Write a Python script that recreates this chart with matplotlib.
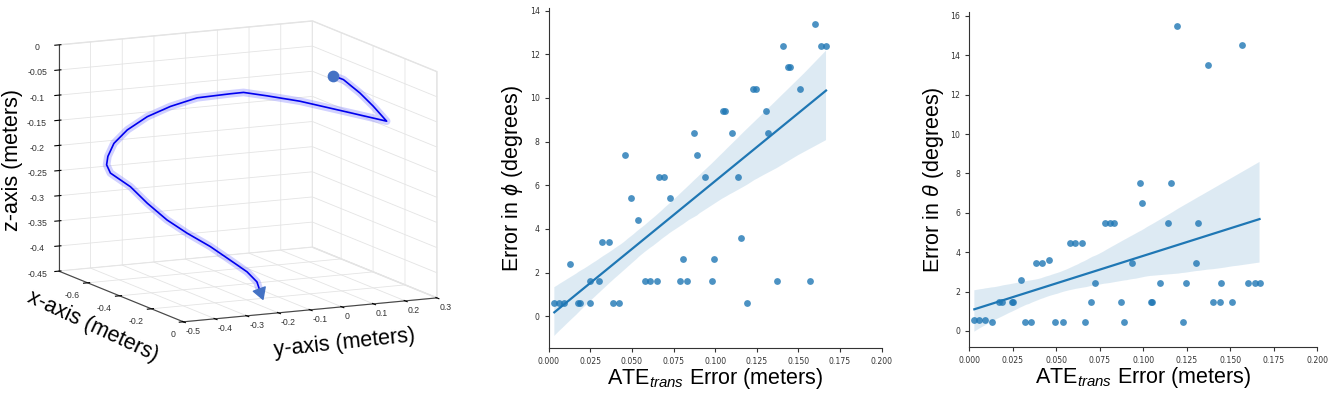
import matplotlib
matplotlib.use("Agg")
import matplotlib.pyplot as plt
import seaborn as sns
from matplotlib.ticker import FormatStrFormatter

# camera trajectory (meters)
traj_x = [-0.25, -0.23, -0.20, -0.17, -0.15, -0.20, -0.25, -0.30, -0.32, -0.35, -0.42,
          -0.47, -0.52, -0.56, -0.59, -0.61, -0.62, -0.60, -0.55, -0.50, -0.45, -0.40,
          -0.35, -0.30, -0.26, -0.23, -0.20]
traj_y = [0.098, 0.121, 0.158, 0.185, 0.217, 0.106, -0.006, -0.085, -0.149, -0.176, -0.245,
          -0.304, -0.352, -0.395, -0.422, -0.431, -0.430, -0.428, -0.390, -0.362, -0.325,
          -0.287, -0.239, -0.201, -0.168, -0.152, -0.157]
traj_z = [-0.028, -0.035, -0.060, -0.084, -0.113, -0.093, -0.073, -0.064, -0.056, -0.061,
          -0.074, -0.094, -0.118, -0.147, -0.176, -0.204, -0.222, -0.236, -0.259, -0.287,
          -0.316, -0.338, -0.361, -0.384, -0.404, -0.421, -0.436]

x_ticks = [-0.6, -0.4, -0.2, 0]
x_labels = ["-0.6", "-0.4", "-0.2", "0"]
y_ticks = [-0.5, -0.4, -0.3, -0.2, -0.1, 0, 0.1, 0.2, 0.3]
y_labels = ["-0.5", "-0.4", "-0.3", "-0.2", "-0.1", "0", "0.1", "0.2", "0.3"]
z_ticks = [-0.45, -0.4, -0.35, -0.3, -0.25, -0.2, -0.15, -0.1, -0.05, 0]
z_labels = ["-0.45", "-0.4", "-0.35", "-0.3", "-0.25", "-0.2", "-0.15", "-0.1", "-0.05", "0"]

# ATE_trans error vs rotation error
ate_phi = [0.160, 0.1636, 0.1666, 0.1406, 0.144, 0.1452, 0.123, 0.1246, 0.1508, 0.1046,
           0.1058, 0.1304, 0.087, 0.110, 0.1316, 0.046, 0.0888, 0.0662, 0.0694, 0.0936,
           0.114, 0.0494, 0.0728, 0.0536, 0.1156, 0.032, 0.036, 0.013, 0.0808, 0.0996,
           0.0246, 0.030, 0.0576, 0.0608, 0.065, 0.0786, 0.0828, 0.0982, 0.1374, 0.1568,
           0.0034, 0.006, 0.0094, 0.0176, 0.019, 0.025, 0.0386, 0.0424, 0.1192]
err_phi = [13.4, 12.4, 12.4, 12.4, 11.4, 11.4, 10.4, 10.4, 10.4, 9.4,
           9.4, 9.4, 8.4, 8.4, 8.4, 7.4, 7.4, 6.4, 6.4, 6.4,
           6.4, 5.4, 5.4, 4.4, 3.6, 3.4, 3.4, 2.4, 2.6, 2.6,
           1.6, 1.6, 1.6, 1.6, 1.6, 1.6, 1.6, 1.6, 1.6, 1.6,
           0.6, 0.6, 0.6, 0.6, 0.6, 0.6, 0.6, 0.6, 0.6]

ate_theta = [0.1194, 0.1568, 0.1374, 0.0979, 0.1157, 0.0994, 0.0781, 0.0810, 0.0829, 0.1140,
             0.1317, 0.0576, 0.0610, 0.0649, 0.0457, 0.0382, 0.0420, 0.0935, 0.1303, 0.0296,
             0.0724, 0.1098, 0.1246, 0.1449, 0.1601, 0.1641, 0.1668, 0.0173, 0.0188, 0.0244,
             0.0250, 0.0697, 0.0871, 0.1046, 0.1052, 0.1403, 0.1441, 0.1509, 0.0029, 0.0054,
             0.0092, 0.0129, 0.0319, 0.0357, 0.0495, 0.0536, 0.0664, 0.0889, 0.1226]
err_theta = [15.5, 14.5, 13.5, 7.5, 7.5, 6.5, 5.47, 5.47, 5.47, 5.47,
             5.47, 4.47, 4.47, 4.47, 3.6, 3.45, 3.45, 3.45, 3.45, 2.6,
             2.45, 2.45, 2.45, 2.45, 2.45, 2.45, 2.45, 1.45, 1.45, 1.45,
             1.45, 1.45, 1.45, 1.45, 1.45, 1.45, 1.45, 1.45, 0.58, 0.58,
             0.58, 0.45, 0.45, 0.45, 0.45, 0.45, 0.45, 0.45, 0.45]

plt.rcParams["font.family"] = ["Liberation Sans", "DejaVu Sans"]
plt.rcParams["mathtext.fontset"] = "custom"
plt.rcParams["mathtext.rm"] = "Liberation Sans"
plt.rcParams["mathtext.it"] = "Liberation Sans:italic"
plt.rcParams["grid.color"] = "#e4e4e4"
plt.rcParams["grid.linewidth"] = 0.6

W, H = 1334, 393
fig = plt.figure(figsize=(W / 100, H / 100), dpi=100)

# --- 3D trajectory panel ---
ax3 = fig.add_axes([-0.0084, 0.0196, 0.38, 1.06], projection="3d")
ax3.plot(traj_x, traj_y, traj_z, color="#8c8cff", lw=5.5, alpha=0.4, solid_capstyle="round")
ax3.plot(traj_x, traj_y, traj_z, color="#0000ee", lw=1.2)
ax3.scatter([traj_x[0]], [traj_y[0]], [traj_z[0]], s=55, color="#4472c4", depthshade=False)
ax3.scatter([traj_x[-1]], [traj_y[-1]], [traj_z[-1]], s=110, marker=(3, 0, 200),
            color="#4472c4", depthshade=False)
ax3.set_proj_type("ortho")
ax3.view_init(elev=11.3, azim=-25.7)
ax3.set_xlim(-0.78, 0)
ax3.set_ylim(-0.5, 0.3)
ax3.set_zlim(-0.45, 0)
ax3.set_box_aspect((1.02, 1, 0.82), zoom=1.08)
ax3.set_xticks(x_ticks, x_labels, fontsize=6.3, color="#333333", ha="right")
ax3.set_yticks(y_ticks, y_labels, fontsize=6.3, color="#333333", ha="left")
ax3.set_zticks(z_ticks, z_labels, fontsize=6.3, color="#333333")
ax3.tick_params(axis="x", pad=-3)
ax3.tick_params(axis="y", pad=-5)
ax3.tick_params(axis="z", pad=1)
for axis in (ax3.xaxis, ax3.yaxis, ax3.zaxis):
    axis.set_pane_color((1, 1, 1, 1))
    axis.pane.set_edgecolor("#e4e4e4")
    axis.line.set_color("#444444")
    axis.line.set_linewidth(0.8)
ax3.zaxis.set_ticks_position("lower")

# MATLAB-style axis titles placed beside the box
fig.text(93 / W, 1 - 326 / H, "x-axis (meters)", fontsize=15.5, rotation=-25,
         ha="center", va="center", rotation_mode="anchor")
fig.text(345 / W, 1 - 343 / H, "y-axis (meters)", fontsize=15.5, rotation=6,
         ha="center", va="center", rotation_mode="anchor")
fig.text(13 / W, 1 - 160 / H, "z-axis (meters)", fontsize=15.5, rotation=90,
         ha="center", va="center", rotation_mode="anchor")

# --- scatter + regression panels ---
def reg_panel(rect, xs, ys, ylim, yticks, ylabel):
    ax = fig.add_axes(rect)
    sns.regplot(x=xs, y=ys, ax=ax, color="#1f77b4", seed=3,
                scatter_kws={"s": 24, "linewidths": 0},
                line_kws={"lw": 1.6})
    ax.set_xlim(0, 0.2)
    ax.set_ylim(*ylim)
    ax.set_xticks([0, 0.025, 0.05, 0.075, 0.1, 0.125, 0.15, 0.175, 0.2])
    ax.set_yticks(yticks)
    ax.xaxis.set_major_formatter(FormatStrFormatter("%.3f"))
    ax.tick_params(labelsize=5.6, length=3, width=0.8, colors="#333333",
                   labelcolor="#333333")
    for lab in ax.get_xticklabels() + ax.get_yticklabels():
        lab.set_family("DejaVu Sans")
    ax.spines["top"].set_visible(False)
    ax.spines["right"].set_visible(False)
    ax.spines["left"].set_color("#333333")
    ax.spines["bottom"].set_color("#333333")
    ax.set_xlabel(r"ATE$_{trans}$ Error (meters)", fontsize=15.5, labelpad=0)
    ax.set_ylabel(ylabel, fontsize=15.5, labelpad=3)
    return ax

reg_panel([0.4113, 0.1145, 0.2496, 0.865], ate_phi, err_phi, (-1.46, 14.12),
          range(0, 15, 2), r"Error in $\phi$ (degrees)")
reg_panel([0.7266, 0.1178, 0.2609, 0.8517], ate_theta, err_theta, (-0.8, 16.2),
          range(0, 17, 2), r"Error in $\theta$ (degrees)")

fig.savefig("out.png", dpi=100)
